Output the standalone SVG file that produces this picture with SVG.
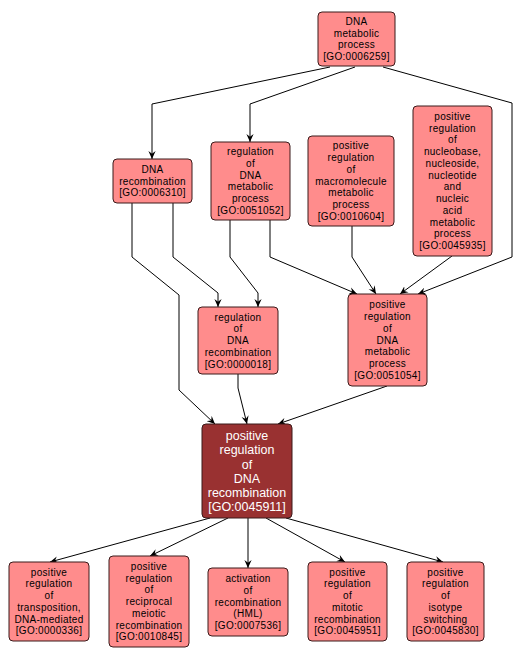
<svg xmlns="http://www.w3.org/2000/svg" width="521" height="661" viewBox="0 0 521 661">
<style>
.n rect{fill:#ff8c8c;stroke:#3a1a1a;stroke-width:1}
.d rect{fill:#993131;stroke:#3a1a1a;stroke-width:1}
text{font-family:"Liberation Sans",Arial,sans-serif;text-anchor:middle}
.n text{font-size:10px;letter-spacing:0.3px;fill:#000}
.d text{font-size:12.5px;fill:#fff}
#edges polyline{fill:none;stroke:#000;stroke-width:1;marker-end:url(#arr)}
</style>
<defs>
<marker id="arr" viewBox="0 0 10 10" refX="10" refY="5" markerWidth="8" markerHeight="8" markerUnits="userSpaceOnUse" orient="auto">
<path d="M0,0.5 L10,5 L0,9.5 L3.5,5 z" fill="#000"/>
</marker>
</defs>
<rect width="521" height="661" fill="#fff"/>
<g id="edges">
<polyline points="330,67 152,104 152,159"/>
<polyline points="355,67 250,104 250,142"/>
<polyline points="383,67 512,103 512,257 418,294"/>
<polyline points="173,203 173,257 218,293 218,307"/>
<polyline points="132,203 132,257 179,295 179,390 215,424"/>
<polyline points="230,220 230,257 258,293 258,307"/>
<polyline points="270,220 270,257 357,294"/>
<polyline points="352,226 352,257 376,294"/>
<polyline points="452,256 400,294"/>
<polyline points="238,374 238,388 247,424"/>
<polyline points="387,386 278,424"/>
<polyline points="210,518 50,562"/>
<polyline points="228,518 150,556"/>
<polyline points="248,518 248,568"/>
<polyline points="266,518 345,562"/>
<polyline points="286,518 443,562"/>
</g>
<g id="GO0006259" class="n"><rect x="318" y="12" width="77" height="54" rx="4"/>
<text x="356.5" y="24.9">DNA</text><text x="356.5" y="36.6">metabolic</text><text x="356.5" y="48.4">process</text><text x="356.5" y="60.1">[GO:0006259]</text></g>
<g id="GO0006310" class="n"><rect x="113" y="159" width="79" height="44" rx="4"/>
<text x="152.5" y="172.8">DNA</text><text x="152.5" y="184.5">recombination</text><text x="152.5" y="196.3">[GO:0006310]</text></g>
<g id="GO0051052" class="n"><rect x="211" y="142" width="79" height="78" rx="4"/>
<text x="250.5" y="155.1">regulation</text><text x="250.5" y="166.9">of</text><text x="250.5" y="178.6">DNA</text><text x="250.5" y="190.4">metabolic</text><text x="250.5" y="202.1">process</text><text x="250.5" y="213.9">[GO:0051052]</text></g>
<g id="GO0010604" class="n"><rect x="308" y="136" width="86" height="90" rx="4"/>
<text x="351" y="149.3">positive</text><text x="351" y="161">regulation</text><text x="351" y="172.8">of</text><text x="351" y="184.5">macromolecule</text><text x="351" y="196.3">metabolic</text><text x="351" y="208">process</text><text x="351" y="219.8">[GO:0010604]</text></g>
<g id="GO0045935" class="n"><rect x="413" y="106" width="79" height="150" rx="4"/>
<text x="452.5" y="119.9">positive</text><text x="452.5" y="131.6">regulation</text><text x="452.5" y="143.4">of</text><text x="452.5" y="155.1">nucleobase,</text><text x="452.5" y="166.9">nucleoside,</text><text x="452.5" y="178.6">nucleotide</text><text x="452.5" y="190.4">and</text><text x="452.5" y="202.1">nucleic</text><text x="452.5" y="213.9">acid</text><text x="452.5" y="225.6">metabolic</text><text x="452.5" y="237.4">process</text><text x="452.5" y="249.1">[GO:0045935]</text></g>
<g id="GO0000018" class="n"><rect x="198" y="307" width="80" height="67" rx="4"/>
<text x="238" y="320.5">regulation</text><text x="238" y="332.3">of</text><text x="238" y="344">DNA</text><text x="238" y="355.8">recombination</text><text x="238" y="367.5">[GO:0000018]</text></g>
<g id="GO0051054" class="n"><rect x="348" y="294" width="79" height="92" rx="4"/>
<text x="387.5" y="308.3">positive</text><text x="387.5" y="320">regulation</text><text x="387.5" y="331.8">of</text><text x="387.5" y="343.5">DNA</text><text x="387.5" y="355.3">metabolic</text><text x="387.5" y="367">process</text><text x="387.5" y="378.8">[GO:0051054]</text></g>
<g id="GO0045911" class="d"><rect x="202" y="424" width="90" height="94" rx="4"/>
<text x="247" y="440.3">positive</text><text x="247" y="454.4">regulation</text><text x="247" y="468.5">of</text><text x="247" y="482.6">DNA</text><text x="247" y="496.7">recombination</text><text x="247" y="510.8">[GO:0045911]</text></g>
<g id="GO0000336" class="n"><rect x="9" y="562" width="80" height="79" rx="4"/>
<text x="49" y="575.6">positive</text><text x="49" y="587.4">regulation</text><text x="49" y="599.1">of</text><text x="49" y="610.9">transposition,</text><text x="49" y="622.6">DNA-mediated</text><text x="49" y="634.4">[GO:0000336]</text></g>
<g id="GO0010845" class="n"><rect x="109" y="556" width="80" height="91" rx="4"/>
<text x="149" y="569.8">positive</text><text x="149" y="581.5">regulation</text><text x="149" y="593.3">of</text><text x="149" y="605">reciprocal</text><text x="149" y="616.8">meiotic</text><text x="149" y="628.5">recombination</text><text x="149" y="640.3">[GO:0010845]</text></g>
<g id="GO0007536" class="n"><rect x="208" y="568" width="80" height="68" rx="4"/>
<text x="248" y="582">activation</text><text x="248" y="593.8">of</text><text x="248" y="605.5">recombination</text><text x="248" y="617.3">(HML)</text><text x="248" y="629">[GO:0007536]</text></g>
<g id="GO0045951" class="n"><rect x="308" y="562" width="79" height="79" rx="4"/>
<text x="347.5" y="575.6">positive</text><text x="347.5" y="587.4">regulation</text><text x="347.5" y="599.1">of</text><text x="347.5" y="610.9">mitotic</text><text x="347.5" y="622.6">recombination</text><text x="347.5" y="634.4">[GO:0045951]</text></g>
<g id="GO0045830" class="n"><rect x="407" y="562" width="77" height="79" rx="4"/>
<text x="445.5" y="575.6">positive</text><text x="445.5" y="587.4">regulation</text><text x="445.5" y="599.1">of</text><text x="445.5" y="610.9">isotype</text><text x="445.5" y="622.6">switching</text><text x="445.5" y="634.4">[GO:0045830]</text></g>
</svg>
